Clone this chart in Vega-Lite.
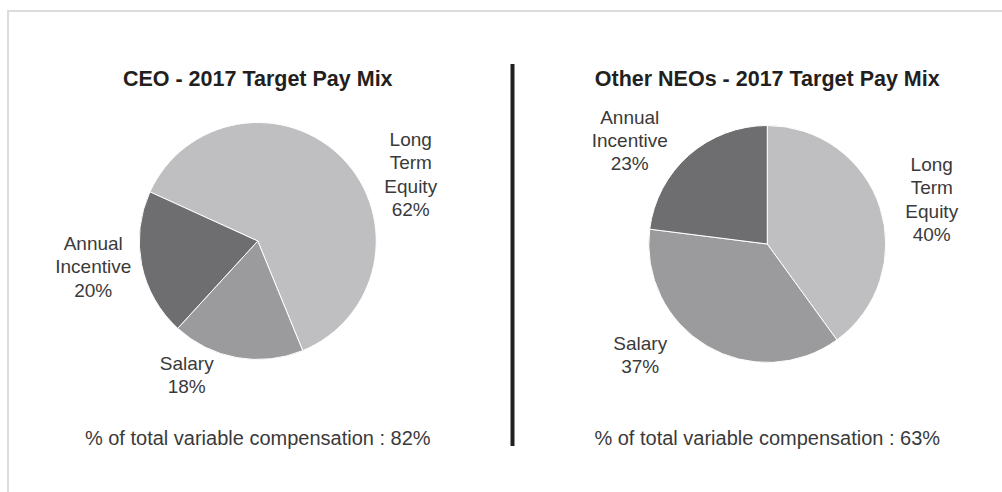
{
  "$schema": "https://vega.github.io/schema/vega-lite/v6.json",
  "width": 994,
  "height": 481,
  "autosize": {"type": "none"},
  "padding": {"left": 8, "top": 11, "right": 0, "bottom": 0},
  "background": "#ffffff",
  "config": {
    "view": {"stroke": "#dcdcdc", "strokeWidth": 2, "strokeDash": [994, 1475, 481, 0], "strokeCap": "square"},
    "text": {"font": "Liberation Sans"}
  },
  "datasets": {
    "mix": [
      {"chart": "CEO", "category": "Long Term Equity", "pct": 62},
      {"chart": "CEO", "category": "Salary", "pct": 18},
      {"chart": "CEO", "category": "Annual Incentive", "pct": 20},
      {"chart": "NEO", "category": "Long Term Equity", "pct": 40},
      {"chart": "NEO", "category": "Salary", "pct": 37},
      {"chart": "NEO", "category": "Annual Incentive", "pct": 23}
    ],
    "charts": [
      {"chart": "CEO", "title": "CEO - 2017 Target Pay Mix", "variable": 82},
      {"chart": "NEO", "title": "Other NEOs - 2017 Target Pay Mix", "variable": 63}
    ]
  },
  "layer": [
    {
      "data": {"name": "mix"},
      "transform": [{"filter": "datum.chart === 'CEO'"}],
      "mark": {"type": "arc", "radius": 118.5, "stroke": "#ffffff", "strokeWidth": 1},
      "encoding": {
        "x": {"field": "chart", "type": "nominal", "bandPosition": 0.5, "scale": {"type": "band", "domain": ["CEO", "NEO"], "range": [-5, 1014], "paddingInner": 0, "paddingOuter": 0}, "axis": null},
        "y": {"datum": 230, "type": "quantitative", "scale": {"domain": [0, 481], "reverse": true, "zero": false, "nice": false}, "axis": null},
        "theta": {"field": "pct", "type": "quantitative", "stack": true, "scale": {"range": [3.8833, 10.1665]}},
        "order": {"field": "category", "sort": "ascending"},
        "color": {"field": "category", "type": "nominal", "scale": {"domain": ["Long Term Equity", "Salary", "Annual Incentive"], "range": ["#bfbfc1", "#9b9b9d", "#6e6e70"]}, "legend": null}
      }
    },
    {
      "data": {"name": "mix"},
      "transform": [{"filter": "datum.chart === 'NEO'"}],
      "mark": {"type": "arc", "radius": 118.5, "stroke": "#ffffff", "strokeWidth": 1},
      "encoding": {
        "x": {"field": "chart", "type": "nominal", "bandPosition": 0.5, "axis": null},
        "y": {"datum": 233, "type": "quantitative", "axis": null},
        "theta": {"field": "pct", "type": "quantitative", "stack": true, "scale": {"range": [4.8381, 11.1213]}},
        "order": {"field": "category", "sort": "ascending"},
        "color": {"field": "category", "type": "nominal", "legend": null}
      }
    },
    {
      "data": {"name": "mix"},
      "transform": [
        {"filter": "datum.chart === 'CEO' && datum.category === 'Long Term Equity'"},
        {"calculate": "datum.category + ' ' + datum.pct + '%'", "as": "label"}
      ],
      "mark": {"type": "text", "fontSize": 19, "lineHeight": 23.3, "lineBreak": " ", "align": "center", "baseline": "alphabetic", "color": "#3a3a3a", "dx": 153, "dy": -95},
      "encoding": {
        "x": {"field": "chart", "type": "nominal", "bandPosition": 0.5, "axis": null},
        "y": {"datum": 230, "type": "quantitative", "axis": null},
        "text": {"field": "label"}
      }
    },
    {
      "data": {"name": "mix"},
      "transform": [
        {"filter": "datum.chart === 'CEO' && datum.category === 'Annual Incentive'"},
        {"calculate": "datum.category + ' ' + datum.pct + '%'", "as": "label"}
      ],
      "mark": {"type": "text", "fontSize": 19, "lineHeight": 23.3, "lineBreak": " ", "align": "center", "baseline": "alphabetic", "color": "#3a3a3a", "dx": -164.5, "dy": 9},
      "encoding": {
        "x": {"field": "chart", "type": "nominal", "bandPosition": 0.5, "axis": null},
        "y": {"datum": 230, "type": "quantitative", "axis": null},
        "text": {"field": "label"}
      }
    },
    {
      "data": {"name": "mix"},
      "transform": [
        {"filter": "datum.chart === 'CEO' && datum.category === 'Salary'"},
        {"calculate": "datum.category + ' ' + datum.pct + '%'", "as": "label"}
      ],
      "mark": {"type": "text", "fontSize": 19, "lineHeight": 23.3, "lineBreak": " ", "align": "center", "baseline": "alphabetic", "color": "#3a3a3a", "dx": -71, "dy": 129},
      "encoding": {
        "x": {"field": "chart", "type": "nominal", "bandPosition": 0.5, "axis": null},
        "y": {"datum": 230, "type": "quantitative", "axis": null},
        "text": {"field": "label"}
      }
    },
    {
      "data": {"name": "mix"},
      "transform": [
        {"filter": "datum.chart === 'NEO' && datum.category === 'Long Term Equity'"},
        {"calculate": "datum.category + ' ' + datum.pct + '%'", "as": "label"}
      ],
      "mark": {"type": "text", "fontSize": 19, "lineHeight": 23.3, "lineBreak": " ", "align": "center", "baseline": "alphabetic", "color": "#3a3a3a", "dx": 164.5, "dy": -73},
      "encoding": {
        "x": {"field": "chart", "type": "nominal", "bandPosition": 0.5, "axis": null},
        "y": {"datum": 233, "type": "quantitative", "axis": null},
        "text": {"field": "label"}
      }
    },
    {
      "data": {"name": "mix"},
      "transform": [
        {"filter": "datum.chart === 'NEO' && datum.category === 'Annual Incentive'"},
        {"calculate": "datum.category + ' ' + datum.pct + '%'", "as": "label"}
      ],
      "mark": {"type": "text", "fontSize": 19, "lineHeight": 23.3, "lineBreak": " ", "align": "center", "baseline": "alphabetic", "color": "#3a3a3a", "dx": -137.5, "dy": -120.5},
      "encoding": {
        "x": {"field": "chart", "type": "nominal", "bandPosition": 0.5, "axis": null},
        "y": {"datum": 233, "type": "quantitative", "axis": null},
        "text": {"field": "label"}
      }
    },
    {
      "data": {"name": "mix"},
      "transform": [
        {"filter": "datum.chart === 'NEO' && datum.category === 'Salary'"},
        {"calculate": "datum.category + ' ' + datum.pct + '%'", "as": "label"}
      ],
      "mark": {"type": "text", "fontSize": 19, "lineHeight": 23.3, "lineBreak": " ", "align": "center", "baseline": "alphabetic", "color": "#3a3a3a", "dx": -127, "dy": 105.5},
      "encoding": {
        "x": {"field": "chart", "type": "nominal", "bandPosition": 0.5, "axis": null},
        "y": {"datum": 233, "type": "quantitative", "axis": null},
        "text": {"field": "label"}
      }
    },
    {
      "data": {"name": "charts"},
      "mark": {"type": "text", "fontSize": 21.5, "fontWeight": "bold", "align": "center", "baseline": "alphabetic", "color": "#231f20"},
      "encoding": {
        "x": {"field": "chart", "type": "nominal", "bandPosition": 0.5, "axis": null},
        "y": {"datum": 75, "type": "quantitative", "axis": null},
        "text": {"field": "title"}
      }
    },
    {
      "data": {"name": "charts"},
      "transform": [{"calculate": "'% of total variable compensation : ' + datum.variable + '%'", "as": "note"}],
      "mark": {"type": "text", "fontSize": 20, "align": "center", "baseline": "alphabetic", "color": "#3a3a3a"},
      "encoding": {
        "x": {"field": "chart", "type": "nominal", "bandPosition": 0.5, "axis": null},
        "y": {"datum": 434, "type": "quantitative", "axis": null},
        "text": {"field": "note"}
      }
    },
    {
      "data": {"name": "charts"},
      "transform": [{"filter": "datum.chart === 'NEO'"}],
      "mark": {"type": "rule", "strokeWidth": 4, "color": "#231f20"},
      "encoding": {
        "x": {"field": "chart", "type": "nominal", "bandPosition": 0, "axis": null},
        "y": {"datum": 53, "type": "quantitative", "axis": null},
        "y2": {"datum": 435}
      }
    }
  ],
  "resolve": {"scale": {"theta": "independent"}}
}
